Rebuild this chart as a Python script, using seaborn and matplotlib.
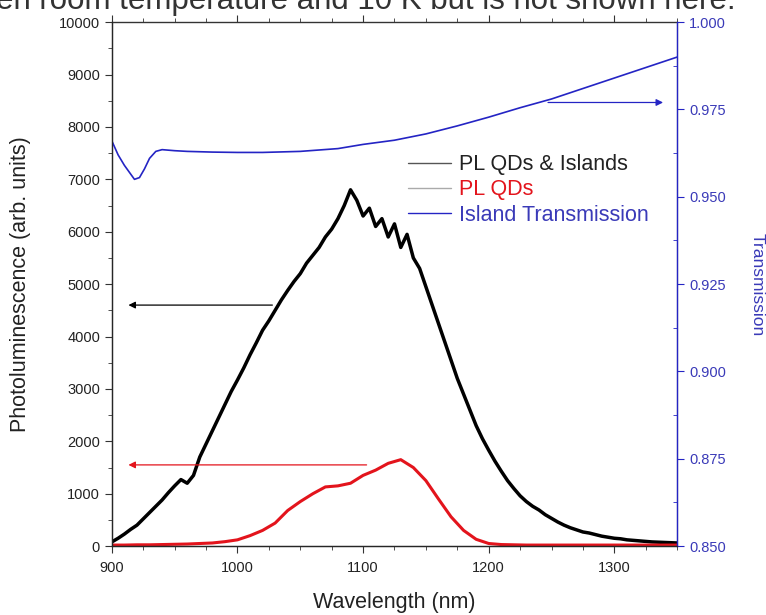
import matplotlib
matplotlib.use("Agg")
import matplotlib.pyplot as plt
from matplotlib.ticker import MultipleLocator, FormatStrFormatter
import numpy as np
import pandas as pd
import seaborn as sns

# PL QDs & Islands (every 5 nm, 900..1350)
wl_pl = list(range(900, 1355, 5))
pl_all = [80, 150, 230, 320, 400, 520, 640, 760, 880, 1020,
          1150, 1270, 1200, 1350, 1700, 1950, 2200, 2450, 2700, 2950,
          3170, 3400, 3650, 3880, 4120, 4300, 4500, 4700, 4880, 5050,
          5200, 5400, 5550, 5700, 5900, 6050, 6250, 6500, 6800, 6600,
          6300, 6450, 6100, 6250, 5900, 6150, 5700, 5950, 5500, 5300,
          4950, 4600, 4250, 3900, 3550, 3200, 2900, 2600, 2300, 2050,
          1830, 1620, 1430, 1250, 1100, 960, 850, 760, 690, 600,
          530, 460, 400, 350, 310, 270, 250, 220, 190, 170,
          150, 140, 120, 110, 100, 90, 80, 75, 70, 65, 60]

# PL QDs (every 10 nm, 900..1350)
wl_qd = list(range(900, 1360, 10))
pl_qd = [20, 20, 25, 25, 30, 35, 40, 50, 60, 85,
         120, 200, 300, 440, 680, 850, 1000, 1130, 1150, 1200,
         1350, 1450, 1580, 1650, 1500, 1250, 900, 560, 300, 130,
         50, 30, 25, 20, 20, 20, 20, 20, 20, 20,
         20, 20, 20, 20, 20, 20]

# Island transmission
wl_tr = [900, 905, 910, 915, 918, 922, 926, 930, 935, 940, 950, 960, 980,
         1000, 1020, 1050, 1080, 1100, 1125, 1150, 1175, 1200, 1225, 1250,
         1275, 1300, 1325, 1350]
trans = [0.966, 0.962, 0.959, 0.9565, 0.955, 0.9555, 0.958, 0.961, 0.963,
         0.9635, 0.9632, 0.963, 0.9628, 0.9627, 0.9627, 0.963, 0.9638, 0.965,
         0.9662, 0.968, 0.9703, 0.9728, 0.9755, 0.978, 0.981, 0.984, 0.987,
         0.990]

df_all = pd.DataFrame({"wl": wl_pl, "pl": pl_all})
df_qd = pd.DataFrame({"wl": wl_qd, "pl": pl_qd})
df_tr = pd.DataFrame({"wl": wl_tr, "t": trans})

sns.set_style("ticks")
plt.rcParams["font.family"] = ["Liberation Sans", "DejaVu Sans"]

BLACK = "#000000"
RED = "#e3141c"
BLUE = "#2424c4"
BLUE_TXT = "#3a3ab8"

fig = plt.figure(figsize=(7.66, 6.15), dpi=100)
ax = fig.add_axes([0.146, 0.112, 0.738, 0.852])
ax2 = ax.twinx()

sns.lineplot(data=df_all, x="wl", y="pl", ax=ax, color=BLACK, lw=2.5, label="PL QDs & Islands", legend=False)
sns.lineplot(data=df_qd, x="wl", y="pl", ax=ax, color=RED, lw=2.2, label="PL QDs", legend=False)
sns.lineplot(data=df_tr, x="wl", y="t", ax=ax2, color=BLUE, lw=1.2, label="Island Transmission", legend=False)

ax.set_xlim(900, 1350)
ax.set_ylim(0, 10000)
ax2.set_ylim(0.85, 1.0)

ax.xaxis.set_major_locator(MultipleLocator(100))
ax.xaxis.set_minor_locator(MultipleLocator(25))
ax.yaxis.set_major_locator(MultipleLocator(1000))
ax.yaxis.set_minor_locator(MultipleLocator(500))
ax2.yaxis.set_major_locator(MultipleLocator(0.025))
ax2.yaxis.set_minor_locator(MultipleLocator(0.0125))
ax2.yaxis.set_major_formatter(FormatStrFormatter("%.3f"))

ax.tick_params(axis="both", which="major", labelsize=10.5, length=5, color="#333333", labelcolor="#222222")
ax.tick_params(axis="both", which="minor", length=3, color="#333333")
ax.tick_params(axis="x", top=True, which="both", direction="out")
ax.tick_params(axis="x", which="major", pad=6)
ax2.tick_params(axis="y", which="major", labelsize=10.5, length=5, color=BLUE, labelcolor=BLUE_TXT)
ax2.tick_params(axis="y", which="minor", length=3, color=BLUE, direction="in")

for s in ["left", "bottom", "top"]:
    ax.spines[s].set_color("#333333")
    ax.spines[s].set_linewidth(1.0)
ax2.spines["right"].set_color(BLUE)
ax2.spines["right"].set_linewidth(1.0)
ax2.spines["top"].set_visible(False)

ax.set_xlabel("Wavelength (nm)", fontsize=15.5, color="#222222", labelpad=12)
ax.set_ylabel("Photoluminescence (arb. units)", fontsize=15.5, color="#222222", labelpad=20)
ax2.set_ylabel("Transmission", fontsize=12.5, color=BLUE_TXT, rotation=270, labelpad=28)

# arrows
ax.annotate("", xy=(911, 4600), xytext=(1030, 4600),
            arrowprops=dict(arrowstyle="-|>", color=BLACK, lw=0.9, mutation_scale=10))
ax.annotate("", xy=(911, 1550), xytext=(1105, 1550),
            arrowprops=dict(arrowstyle="-|>", color=RED, lw=0.9, mutation_scale=10))
ax2.annotate("", xy=(1341, 0.977), xytext=(1245, 0.977),
             arrowprops=dict(arrowstyle="-|>", color=BLUE, lw=0.9, mutation_scale=10))

h1, l1 = ax.get_legend_handles_labels()
h2, l2 = ax2.get_legend_handles_labels()
leg = ax.legend(h1 + h2, l1 + l2, loc="upper left", bbox_to_anchor=(0.49, 0.785),
                frameon=False, fontsize=15.5, handlelength=2.0, handletextpad=0.35,
                labelspacing=0.2)
for line in leg.get_lines():
    line.set_linewidth(1.0)
leg.get_lines()[0].set_color("#555555")
leg.get_lines()[1].set_color("#aaaaaa")
for txt, c in zip(leg.get_texts(), ["#222222", RED, BLUE_TXT]):
    txt.set_color(c)

# caption fragment cut off at the top edge, as in the source image
fig.text(-0.005, 0.985, "en room temperature and 10 K but is not shown here.",
         fontsize=22.5, color="#333333", ha="left", va="baseline")

fig.savefig("out.png", dpi=100)
